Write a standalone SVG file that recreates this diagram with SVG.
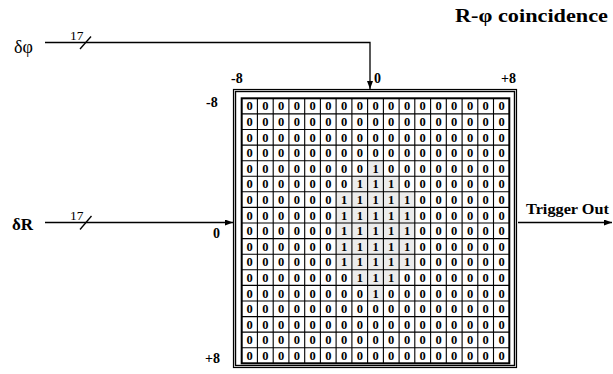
<svg xmlns="http://www.w3.org/2000/svg" width="613" height="374" viewBox="0 0 613 374">
<style>
.lbl{font-family:"Liberation Serif","Times New Roman",serif;font-weight:bold;font-size:14px;fill:#000}
.num{font-family:"Liberation Serif","Times New Roman",serif;font-size:13.5px;fill:#000}
.cell{font-family:"Liberation Serif","Times New Roman",serif;font-weight:bold;font-size:12.5px;fill:#000;text-anchor:middle}
.wire{fill:none;stroke:#000;stroke-width:1.3}
.grid{fill:none;stroke:#000;stroke-width:1.1}
</style>
<defs>
<marker id="arr" viewBox="0 0 8 6" refX="8" refY="3" markerWidth="8" markerHeight="6" markerUnits="userSpaceOnUse" orient="auto">
<path d="M0,0 L8,3 L0,6 z" fill="#000"/>
</marker>
</defs>
<rect width="613" height="374" fill="#fff"/>
<text x="455" y="22" class="lbl" style="font-size:18px" textLength="153" lengthAdjust="spacingAndGlyphs">R-φ coincidence</text>
<g id="dphi">
<text x="14" y="53" style="font-family:'Liberation Serif',serif;font-size:18px">δφ</text>
</g>
<g id="dR">
<text x="12" y="230" style="font-family:'Liberation Serif',serif;font-size:17px;font-weight:bold">δR</text>
</g>
<g id="trigger">
<text x="526" y="214" class="lbl" style="font-size:15.5px" textLength="83" lengthAdjust="spacingAndGlyphs">Trigger Out</text>
</g>
<g id="matrix">
<rect x="233.5" y="89.5" width="283" height="278" fill="none" stroke="#000" stroke-width="1.2"/>
<rect x="235.5" y="91.5" width="279" height="274" fill="none" stroke="#000" stroke-width="1.4"/>
<rect x="241.7" y="98.3" width="267.6" height="265" fill="#fff"/>
<polygon fill="#ececec" points="367.6,160.7 383.4,160.7 383.4,176.3 399.1,176.3 399.1,191.8 414.8,191.8 414.8,269.8 399.1,269.8 399.1,285.4 383.4,285.4 383.4,301 367.6,301 367.6,285.4 351.9,285.4 351.9,269.8 336.1,269.8 336.1,191.8 351.9,191.8 351.9,176.3 367.6,176.3"/>
<path class="grid" d="M257.4,98.3V363.3M273.2,98.3V363.3M288.9,98.3V363.3M304.7,98.3V363.3M320.4,98.3V363.3M336.1,98.3V363.3M351.9,98.3V363.3M367.6,98.3V363.3M383.4,98.3V363.3M399.1,98.3V363.3M414.8,98.3V363.3M430.6,98.3V363.3M446.3,98.3V363.3M462.1,98.3V363.3M477.8,98.3V363.3M493.5,98.3V363.3M241.7,113.9H509.3M241.7,129.5H509.3M241.7,145.1H509.3M241.7,160.7H509.3M241.7,176.3H509.3M241.7,191.8H509.3M241.7,207.4H509.3M241.7,223H509.3M241.7,238.6H509.3M241.7,254.2H509.3M241.7,269.8H509.3M241.7,285.4H509.3M241.7,301H509.3M241.7,316.6H509.3M241.7,332.1H509.3M241.7,347.7H509.3"/>
<rect x="241.7" y="98.3" width="267.6" height="265" fill="none" stroke="#000" stroke-width="2"/>
<g class="cell">
<text x="249.6 265.3 281 296.8 312.5 328.3 344 359.8 375.5 391.2 407 422.7 438.5 454.2 470 485.7 501.5" y="110.4">00000000000000000</text>
<text x="249.6 265.3 281 296.8 312.5 328.3 344 359.8 375.5 391.2 407 422.7 438.5 454.2 470 485.7 501.5" y="126">00000000000000000</text>
<text x="249.6 265.3 281 296.8 312.5 328.3 344 359.8 375.5 391.2 407 422.7 438.5 454.2 470 485.7 501.5" y="141.6">00000000000000000</text>
<text x="249.6 265.3 281 296.8 312.5 328.3 344 359.8 375.5 391.2 407 422.7 438.5 454.2 470 485.7 501.5" y="157.2">00000000000000000</text>
<text x="249.6 265.3 281 296.8 312.5 328.3 344 359.8 375.5 391.2 407 422.7 438.5 454.2 470 485.7 501.5" y="172.8">00000000100000000</text>
<text x="249.6 265.3 281 296.8 312.5 328.3 344 359.8 375.5 391.2 407 422.7 438.5 454.2 470 485.7 501.5" y="188.4">00000001110000000</text>
<text x="249.6 265.3 281 296.8 312.5 328.3 344 359.8 375.5 391.2 407 422.7 438.5 454.2 470 485.7 501.5" y="203.9">00000011111000000</text>
<text x="249.6 265.3 281 296.8 312.5 328.3 344 359.8 375.5 391.2 407 422.7 438.5 454.2 470 485.7 501.5" y="219.5">00000011111000000</text>
<text x="249.6 265.3 281 296.8 312.5 328.3 344 359.8 375.5 391.2 407 422.7 438.5 454.2 470 485.7 501.5" y="235.1">00000011111000000</text>
<text x="249.6 265.3 281 296.8 312.5 328.3 344 359.8 375.5 391.2 407 422.7 438.5 454.2 470 485.7 501.5" y="250.7">00000011111000000</text>
<text x="249.6 265.3 281 296.8 312.5 328.3 344 359.8 375.5 391.2 407 422.7 438.5 454.2 470 485.7 501.5" y="266.3">00000011111000000</text>
<text x="249.6 265.3 281 296.8 312.5 328.3 344 359.8 375.5 391.2 407 422.7 438.5 454.2 470 485.7 501.5" y="281.9">00000001110000000</text>
<text x="249.6 265.3 281 296.8 312.5 328.3 344 359.8 375.5 391.2 407 422.7 438.5 454.2 470 485.7 501.5" y="297.5">00000000100000000</text>
<text x="249.6 265.3 281 296.8 312.5 328.3 344 359.8 375.5 391.2 407 422.7 438.5 454.2 470 485.7 501.5" y="313.1">00000000000000000</text>
<text x="249.6 265.3 281 296.8 312.5 328.3 344 359.8 375.5 391.2 407 422.7 438.5 454.2 470 485.7 501.5" y="328.7">00000000000000000</text>
<text x="249.6 265.3 281 296.8 312.5 328.3 344 359.8 375.5 391.2 407 422.7 438.5 454.2 470 485.7 501.5" y="344.2">00000000000000000</text>
<text x="249.6 265.3 281 296.8 312.5 328.3 344 359.8 375.5 391.2 407 422.7 438.5 454.2 470 485.7 501.5" y="359.8">00000000000000000</text>
</g>
<text x="231" y="83" class="lbl">-8</text>
<text x="374" y="83" class="lbl">0</text>
<text x="501" y="83" class="lbl">+8</text>
<text x="206" y="107" class="lbl">-8</text>
<text x="213" y="238" class="lbl">0</text>
<text x="205" y="363" class="lbl">+8</text>
</g>
<g id="connectors">
<path class="wire" d="M45,42.5H370V89" marker-end="url(#arr)"/>
<line class="wire" x1="80" y1="49" x2="91" y2="36.5"/>
<text x="70" y="40" class="num">17</text>
<path class="wire" d="M45,222.5H233" marker-end="url(#arr)"/>
<line class="wire" x1="80" y1="229.5" x2="91.5" y2="216"/>
<text x="70" y="220" class="num">17</text>
<path class="wire" d="M518,222.5H612" marker-end="url(#arr)"/>
</g>
</svg>
